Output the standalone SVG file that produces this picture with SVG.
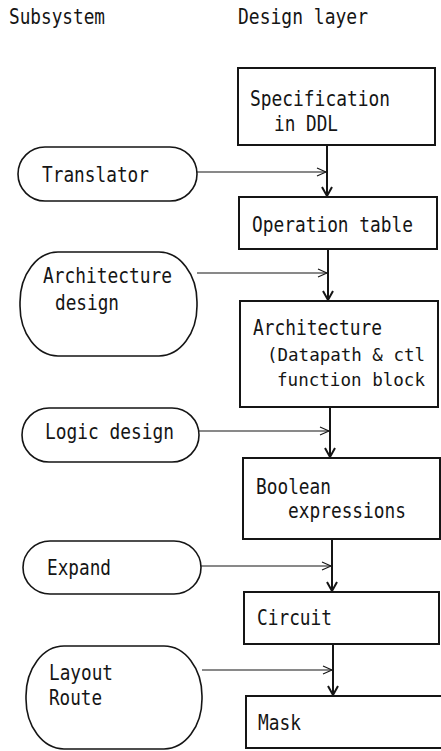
<svg xmlns="http://www.w3.org/2000/svg" width="441" height="751" viewBox="0 0 441 751">
  <style>
    text { font-family: "DejaVu Sans Mono", "Liberation Mono", monospace; font-size: 21px; fill: #151515; }
    .tight { font-size: 18px; }
    .box { fill: #fff; stroke: #151515; stroke-width: 2; }
    .pill { fill: #fff; stroke: #151515; stroke-width: 1.6; }
    .spine { stroke: #151515; stroke-width: 2; fill: none; }
    .feed { stroke: #151515; stroke-width: 1.1; fill: none; }
  </style>
  <defs>
    <marker id="head-down" markerUnits="userSpaceOnUse" markerWidth="12" markerHeight="12" refX="9" refY="5" orient="auto" overflow="visible">
      <path d="M0,0 L9,5 L0,10" fill="none" stroke="#151515" stroke-width="2"/>
    </marker>
    <marker id="head-side" markerUnits="userSpaceOnUse" markerWidth="12" markerHeight="12" refX="9" refY="4" orient="auto" overflow="visible">
      <path d="M0,0 L9,4 L0,8" fill="none" stroke="#151515" stroke-width="1.1"/>
    </marker>
  </defs>

  <rect width="441" height="751" fill="#fff"/>

  <!-- column headings -->
  <g id="headings">
    <text x="9" y="24" textLength="96" lengthAdjust="spacingAndGlyphs">Subsystem</text>
    <text x="238" y="24" textLength="130" lengthAdjust="spacingAndGlyphs">Design layer</text>
  </g>

  <!-- connectors: vertical flow between design layers, and inputs from each subsystem -->
  <g id="connectors">
    <line class="spine" x1="327" y1="145" x2="327" y2="196" marker-end="url(#head-down)"/>
    <line class="spine" x1="328" y1="249" x2="328" y2="300" marker-end="url(#head-down)"/>
    <line class="spine" x1="330" y1="407" x2="330" y2="457" marker-end="url(#head-down)"/>
    <line class="spine" x1="332" y1="539" x2="332" y2="591" marker-end="url(#head-down)"/>
    <line class="spine" x1="333" y1="644" x2="333" y2="695" marker-end="url(#head-down)"/>

    <line class="feed" x1="197" y1="172" x2="326" y2="172" marker-end="url(#head-side)"/>
    <line class="feed" x1="197" y1="273" x2="327" y2="273" marker-end="url(#head-side)"/>
    <line class="feed" x1="199" y1="431" x2="329" y2="431" marker-end="url(#head-side)"/>
    <line class="feed" x1="201" y1="566" x2="331" y2="566" marker-end="url(#head-side)"/>
    <line class="feed" x1="202" y1="670" x2="332" y2="670" marker-end="url(#head-side)"/>
  </g>

  <!-- design layers -->
  <g id="spec">
    <rect class="box" x="238" y="68" width="197" height="77"/>
    <text x="250" y="106" textLength="140" lengthAdjust="spacingAndGlyphs">Specification</text>
    <text x="274" y="131" textLength="64" lengthAdjust="spacingAndGlyphs">in DDL</text>
  </g>
  <g id="optable">
    <rect class="box" x="239" y="197" width="198" height="52"/>
    <text x="252" y="232" textLength="161" lengthAdjust="spacingAndGlyphs">Operation table</text>
  </g>
  <g id="architecture">
    <rect class="box" x="240" y="301" width="198" height="106"/>
    <text x="253" y="335" textLength="129" lengthAdjust="spacingAndGlyphs">Architecture</text>
    <text class="tight" x="267" y="361" textLength="158" lengthAdjust="spacingAndGlyphs">(Datapath &amp; ctl</text>
    <text class="tight" x="277" y="386" textLength="148" lengthAdjust="spacingAndGlyphs">function block</text>
  </g>
  <g id="boolean">
    <rect class="box" x="243" y="458" width="197" height="81"/>
    <text x="256" y="494" textLength="75" lengthAdjust="spacingAndGlyphs">Boolean</text>
    <text x="288" y="518" textLength="118" lengthAdjust="spacingAndGlyphs">expressions</text>
  </g>
  <g id="circuit">
    <rect class="box" x="244" y="592" width="195" height="52"/>
    <text x="257" y="625" textLength="75" lengthAdjust="spacingAndGlyphs">Circuit</text>
  </g>
  <g id="mask">
    <rect class="box" x="246" y="696" width="205" height="52"/>
    <text x="258" y="730" textLength="43" lengthAdjust="spacingAndGlyphs">Mask</text>
  </g>

  <!-- subsystems -->
  <g id="translator">
    <rect class="pill" x="18" y="147" width="179" height="54" rx="27" ry="27"/>
    <text x="42" y="182" textLength="107" lengthAdjust="spacingAndGlyphs">Translator</text>
  </g>
  <g id="arch-design">
    <rect class="pill" x="20" y="252" width="177" height="104" rx="38" ry="50"/>
    <text x="43" y="283" textLength="129" lengthAdjust="spacingAndGlyphs">Architecture</text>
    <text x="55" y="310" textLength="64" lengthAdjust="spacingAndGlyphs">design</text>
  </g>
  <g id="logic-design">
    <rect class="pill" x="22" y="408" width="177" height="54" rx="27" ry="27"/>
    <text x="45" y="439" textLength="129" lengthAdjust="spacingAndGlyphs">Logic design</text>
  </g>
  <g id="expand">
    <rect class="pill" x="23" y="541" width="178" height="53" rx="27" ry="27"/>
    <text x="47" y="575" textLength="64" lengthAdjust="spacingAndGlyphs">Expand</text>
  </g>
  <g id="layout-route">
    <rect class="pill" x="26" y="646" width="176" height="103" rx="38" ry="50"/>
    <text x="49" y="680" textLength="64" lengthAdjust="spacingAndGlyphs">Layout</text>
    <text x="49" y="705" textLength="53" lengthAdjust="spacingAndGlyphs">Route</text>
  </g>
</svg>
